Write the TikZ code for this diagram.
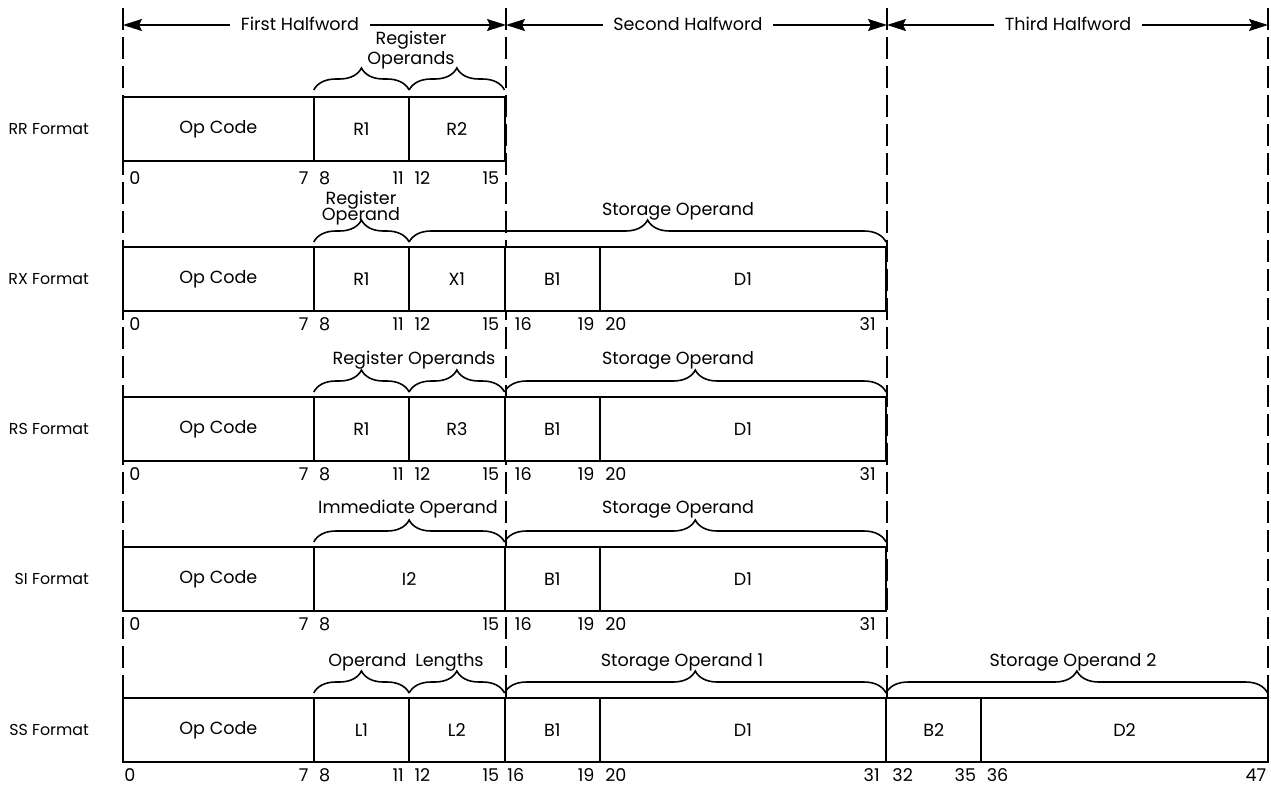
\documentclass[tikz,border=0pt]{standalone}
\usepackage{fontspec}
\setmainfont{Poppins}
\usetikzlibrary{positioning, arrows.meta, decorations.pathreplacing}
\tikzset{
    field/.style={draw, line width=1.1pt, fill=white, anchor=north west, minimum height=1.28cm, outer sep=0pt, inner sep=0pt, font=\normalsize},
    bits/.style={minimum width=#1*0.477cm},
    fmtlabel/.style={font=\small},
    bitnum/.style={inner sep=0pt, font=\normalsize},
    guide/.style={line width=1.1pt, dash pattern=on 0.44cm off 0.14cm},
    brace/.style={decorate, decoration={brace, amplitude=0.44cm}, line width=0.9pt},
    bracelabel/.style={font=\normalsize, align=center, inner sep=1pt},
    dimarrow/.style={{Stealth[length=0.38cm, width=0.24cm, inset=0.06cm]}-{Stealth[length=0.38cm, width=0.24cm, inset=0.06cm]}, line width=0.9pt}
}

\begin{document}
\begin{tikzpicture}[x=0.02cm, y=-0.02cm]
    \useasboundingbox (0, 0) rectangle (1271, 788);

    % Halfword boundaries
    \draw[guide] (123, 8) -- (123, 698);
    \draw[guide] (506, 8) -- (506, 698);
    \draw[guide] (887, 8) -- (887, 698);
    \draw[guide] (1268, 8) -- (1268, 698);

    % Halfword dimensions
    \coordinate (hw0) at (123, 25);
    \coordinate (hw1) at (506, 25);
    \coordinate (hw2) at (887, 25);
    \coordinate (hw3) at (1268, 25);
    \draw[dimarrow] (hw0) -- (hw1);
    \draw[dimarrow] (hw1) -- (hw2);
    \draw[dimarrow] (hw2) -- (hw3);
    \node[fill=white, font=\normalsize, inner xsep=6pt] (first) at (300, 24) {First Halfword};
    \node[fill=white, font=\normalsize, inner xsep=6pt] (second) at (688, 24) {Second Halfword};
    \node[fill=white, font=\normalsize, inner xsep=6pt] (third) at (1068, 24) {Third Halfword};

    % RR Format
    \node[field, bits=8] (rrop) at (123, 97) {Op Code};
    \node[field, bits=4] (rrr1) at (rrop.north east) {R1};
    \node[field, bits=4] (rrr2) at (rrr1.north east) {R2};
    \node[fmtlabel, left=0.56cm of rrop] (rrname) {RR Format};
    \node[bitnum, below right=0.2cm and 0.12cm of rrop.south west] (rrn0) {0};
    \node[bitnum, below left=0.2cm and 0.1cm of rrop.south east] (rrn7) {7};
    \node[bitnum, below right=0.2cm and 0.1cm of rrr1.south west] (rrn8) {8};
    \node[bitnum, below left=0.2cm and 0.1cm of rrr1.south east] (rrn11) {11};
    \node[bitnum, below right=0.2cm and 0.1cm of rrr2.south west] (rrn12) {12};
    \node[bitnum, below left=0.2cm and 0.1cm of rrr2.south east] (rrn15) {15};
    \draw[brace] ([yshift=0.14cm]rrr1.north west) -- ([yshift=0.14cm]rrr1.north east);
    \draw[brace] ([yshift=0.14cm]rrr2.north west) -- ([yshift=0.14cm]rrr2.north east);
    \node[bracelabel] (rrregs) at (411, 50) {Register\\[-1pt]Operands};

    % RX Format
    \node[field, bits=8] (rxop) at (123, 247) {Op Code};
    \node[field, bits=4] (rxr1) at (rxop.north east) {R1};
    \node[field, bits=4] (rxx1) at (rxr1.north east) {X1};
    \node[field, bits=4] (rxb1) at (rxx1.north east) {B1};
    \node[field, bits=12] (rxd1) at (rxb1.north east) {D1};
    \node[fmtlabel, left=0.56cm of rxop] (rxname) {RX Format};
    \node[bitnum, below right=0.12cm and 0.12cm of rxop.south west] (rxn0) {0};
    \node[bitnum, below left=0.12cm and 0.1cm of rxop.south east] (rxn7) {7};
    \node[bitnum, below right=0.12cm and 0.1cm of rxr1.south west] (rxn8) {8};
    \node[bitnum, below left=0.12cm and 0.1cm of rxr1.south east] (rxn11) {11};
    \node[bitnum, below right=0.12cm and 0.1cm of rxx1.south west] (rxn12) {12};
    \node[bitnum, below left=0.12cm and 0.1cm of rxx1.south east] (rxn15) {15};
    \node[bitnum, below right=0.12cm and 0.2cm of rxb1.south west] (rxn16) {16};
    \node[bitnum, below left=0.12cm and 0.1cm of rxb1.south east] (rxn19) {19};
    \node[bitnum, below right=0.12cm and 0.1cm of rxd1.south west] (rxn20) {20};
    \node[bitnum, below left=0.12cm and 0.2cm of rxd1.south east] (rxn31) {31};
    \draw[brace] ([yshift=0.1cm]rxr1.north west) -- ([yshift=0.1cm]rxr1.north east);
    \draw[brace] ([yshift=0.1cm]rxx1.north west) -- ([yshift=0.1cm]rxd1.north east);
    \node[bracelabel] (rxreg) at (361, 208) {Register\\[-3pt]Operand};
    \node[bracelabel] (rxstor) at (678, 211) {Storage Operand};

    % RS Format
    \node[field, bits=8] (rsop) at (123, 397) {Op Code};
    \node[field, bits=4] (rsr1) at (rsop.north east) {R1};
    \node[field, bits=4] (rsr3) at (rsr1.north east) {R3};
    \node[field, bits=4] (rsb1) at (rsr3.north east) {B1};
    \node[field, bits=12] (rsd1) at (rsb1.north east) {D1};
    \node[fmtlabel, left=0.56cm of rsop] (rsname) {RS Format};
    \node[bitnum, below right=0.12cm and 0.12cm of rsop.south west] (rsn0) {0};
    \node[bitnum, below left=0.12cm and 0.1cm of rsop.south east] (rsn7) {7};
    \node[bitnum, below right=0.12cm and 0.1cm of rsr1.south west] (rsn8) {8};
    \node[bitnum, below left=0.12cm and 0.1cm of rsr1.south east] (rsn11) {11};
    \node[bitnum, below right=0.12cm and 0.1cm of rsr3.south west] (rsn12) {12};
    \node[bitnum, below left=0.12cm and 0.1cm of rsr3.south east] (rsn15) {15};
    \node[bitnum, below right=0.12cm and 0.2cm of rsb1.south west] (rsn16) {16};
    \node[bitnum, below left=0.12cm and 0.1cm of rsb1.south east] (rsn19) {19};
    \node[bitnum, below right=0.12cm and 0.1cm of rsd1.south west] (rsn20) {20};
    \node[bitnum, below left=0.12cm and 0.2cm of rsd1.south east] (rsn31) {31};
    \draw[brace] ([yshift=0.1cm]rsr1.north west) -- ([yshift=0.1cm]rsr1.north east);
    \draw[brace] ([yshift=0.1cm]rsr3.north west) -- ([yshift=0.1cm]rsr3.north east);
    \draw[brace] ([yshift=0.1cm]rsb1.north west) -- ([yshift=0.1cm]rsd1.north east);
    \node[bracelabel] (rsregs) at (414, 360) {Register Operands};
    \node[bracelabel] (rsstor) at (678, 360) {Storage Operand};

    % SI Format
    \node[field, bits=8] (siop) at (123, 547) {Op Code};
    \node[field, bits=8] (sii2) at (siop.north east) {I2};
    \node[field, bits=4] (sib1) at (sii2.north east) {B1};
    \node[field, bits=12] (sid1) at (sib1.north east) {D1};
    \node[fmtlabel, left=0.56cm of siop] (siname) {SI Format};
    \node[bitnum, below right=0.12cm and 0.12cm of siop.south west] (sin0) {0};
    \node[bitnum, below left=0.12cm and 0.1cm of siop.south east] (sin7) {7};
    \node[bitnum, below right=0.12cm and 0.1cm of sii2.south west] (sin8) {8};
    \node[bitnum, below left=0.12cm and 0.1cm of sii2.south east] (sin15) {15};
    \node[bitnum, below right=0.12cm and 0.2cm of sib1.south west] (sin16) {16};
    \node[bitnum, below left=0.12cm and 0.1cm of sib1.south east] (sin19) {19};
    \node[bitnum, below right=0.12cm and 0.1cm of sid1.south west] (sin20) {20};
    \node[bitnum, below left=0.12cm and 0.2cm of sid1.south east] (sin31) {31};
    \draw[brace] ([yshift=0.1cm]sii2.north west) -- ([yshift=0.1cm]sii2.north east);
    \draw[brace] ([yshift=0.1cm]sib1.north west) -- ([yshift=0.1cm]sid1.north east);
    \node[bracelabel] (siimm) at (408, 509) {Immediate Operand};
    \node[bracelabel] (sistor) at (678, 509) {Storage Operand};

    % SS Format
    \node[field, bits=8] (ssop) at (123, 698) {Op Code};
    \node[field, bits=4] (ssl1) at (ssop.north east) {L1};
    \node[field, bits=4] (ssl2) at (ssl1.north east) {L2};
    \node[field, bits=4] (ssb1) at (ssl2.north east) {B1};
    \node[field, bits=12] (ssd1) at (ssb1.north east) {D1};
    \node[field, bits=4] (ssb2) at (ssd1.north east) {B2};
    \node[field, bits=12] (ssd2) at (ssb2.north east) {D2};
    \node[fmtlabel, left=0.56cm of ssop] (ssname) {SS Format};
    \node[bitnum, below right=0.12cm and 0.02cm of ssop.south west] (ssn0) {0};
    \node[bitnum, below left=0.12cm and 0.1cm of ssop.south east] (ssn7) {7};
    \node[bitnum, below right=0.12cm and 0.1cm of ssl1.south west] (ssn8) {8};
    \node[bitnum, below left=0.12cm and 0.1cm of ssl1.south east] (ssn11) {11};
    \node[bitnum, below right=0.12cm and 0.1cm of ssl2.south west] (ssn12) {12};
    \node[bitnum, below left=0.12cm and 0.1cm of ssl2.south east] (ssn15) {15};
    \node[bitnum, below right=0.12cm and 0.05cm of ssb1.south west] (ssn16) {16};
    \node[bitnum, below left=0.12cm and 0.1cm of ssb1.south east] (ssn19) {19};
    \node[bitnum, below right=0.12cm and 0.1cm of ssd1.south west] (ssn20) {20};
    \node[bitnum, below left=0.12cm and 0.12cm of ssd1.south east] (ssn31) {31};
    \node[bitnum, below right=0.12cm and 0.12cm of ssb2.south west] (ssn32) {32};
    \node[bitnum, below left=0.12cm and 0.1cm of ssb2.south east] (ssn35) {35};
    \node[bitnum, below right=0.12cm and 0.1cm of ssd2.south west] (ssn36) {36};
    \node[bitnum, below left=0.12cm and 0.02cm of ssd2.south east] (ssn47) {47};
    \draw[brace] ([yshift=0.1cm]ssl1.north west) -- ([yshift=0.1cm]ssl1.north east);
    \draw[brace] ([yshift=0.1cm]ssl2.north west) -- ([yshift=0.1cm]ssl2.north east);
    \draw[brace] ([yshift=0.1cm]ssb1.north west) -- ([yshift=0.1cm]ssd1.north east);
    \draw[brace] ([yshift=0.1cm]ssb2.north west) -- ([yshift=0.1cm]ssd2.north east);
    \node[bracelabel] (sslens) at (406, 662) {Operand\hspace{0.5em}Lengths};
    \node[bracelabel] (ssstor1) at (682, 662) {Storage Operand 1};
    \node[bracelabel] (ssstor2) at (1073, 662) {Storage Operand 2};
\end{tikzpicture}
\end{document}
